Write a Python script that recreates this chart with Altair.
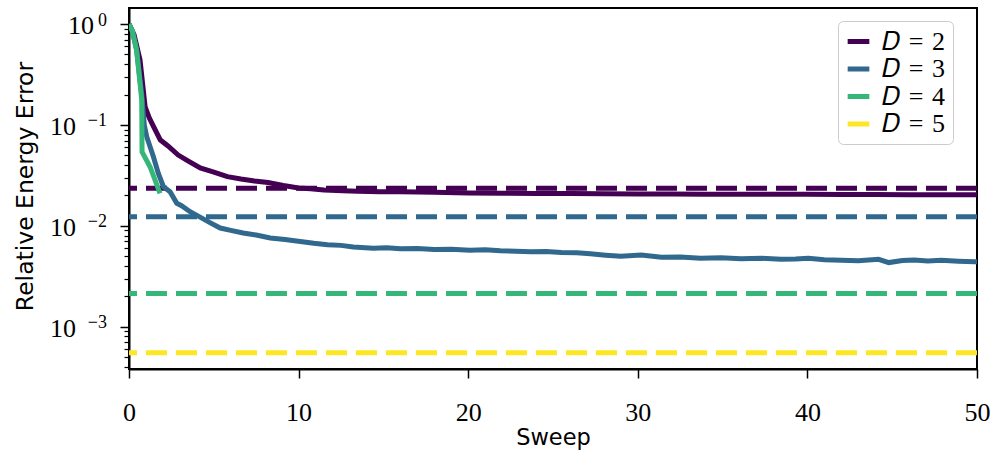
import altair as alt
import pandas as pd

# Relative energy error per sweep for each bond dimension D
sweep_d2 = [0, 0.3, 0.65, 0.95, 1.2, 1.45, 1.85, 2.3, 2.9, 3.5, 4.2, 5.0, 5.8, 6.6,
            7.4, 8.2, 9.1, 10.0, 10.7, 11.5, 12.6, 13.5, 14.8, 16, 18, 20, 22, 24,
            26, 28, 30, 32, 34, 36, 38, 40, 42, 44, 46, 48, 50]
err_d2 = [1.0, 0.78, 0.44, 0.151, 0.117, 0.096, 0.0708, 0.0618, 0.0503, 0.0438,
          0.0374, 0.0341, 0.0307, 0.0291, 0.0278, 0.0269, 0.0251, 0.0237, 0.0233,
          0.0226, 0.0222, 0.0220, 0.0218, 0.0217, 0.0215, 0.0211, 0.0210, 0.0209,
          0.0209, 0.0208, 0.0207, 0.0207, 0.0206, 0.0206, 0.0205, 0.0205, 0.0204,
          0.0204, 0.0203, 0.0203, 0.0203]

sweep_d3 = [0, 0.2, 0.45, 0.75, 0.9, 1.05, 1.44, 1.73, 2.03, 2.42, 2.82, 3.1, 3.6,
            4.19, 4.8, 5.38, 6.0, 6.73, 7.5, 8.33, 9.2, 10.1, 10.9, 11.7, 12.5,
            13.23, 14.4, 15.2, 16.0, 17.0, 18.0, 19.0, 20.1, 21.0, 21.9, 22.8,
            23.7, 24.6, 25.5, 26.4, 27.2, 28.1, 29.0, 30.2, 31.4, 32.5, 33.7,
            34.9, 36.1, 37.3, 38.45, 39.3, 40.05, 41.0, 42.0, 43.0, 44.2, 44.8,
            45.6, 46.3, 47.1, 47.9, 48.9, 49.85, 50]
err_d3 = [1.0, 0.85, 0.55, 0.2, 0.1, 0.076, 0.0484, 0.0331, 0.0244, 0.0218,
          0.0167, 0.0158, 0.0138, 0.0122, 0.0107, 0.0095, 0.0090, 0.0085,
          0.0081, 0.00757, 0.00730, 0.0070, 0.00672, 0.00650, 0.00640, 0.00616,
          0.0060, 0.00605, 0.00592, 0.00596, 0.00584, 0.00586, 0.00572,
          0.00578, 0.00566, 0.00560, 0.00552, 0.00556, 0.00545, 0.00540,
          0.00528, 0.00512, 0.00500, 0.00513, 0.00488, 0.00492, 0.00478,
          0.00482, 0.00472, 0.00476, 0.00466, 0.00470, 0.00477, 0.00462,
          0.00455, 0.00451, 0.00466, 0.00432, 0.00452, 0.00458, 0.00449,
          0.00455, 0.00446, 0.00441, 0.00441]

sweep_d4 = [0, 0.2, 0.45, 0.75, 0.77, 1.24, 1.83]
err_d4 = [1.0, 0.85, 0.552, 0.177, 0.054, 0.0385, 0.021]

bond_labels = ["𝐷\u2004=\u20042", "𝐷\u2004=\u20043", "𝐷\u2004=\u20044", "𝐷\u2004=\u20045"]
reference_err = [0.02353, 0.0123, 0.00214, 0.000552]
palette = ["#440154", "#31688e", "#35b779", "#fde725"]

decade_exp = [0, -1, -2, -3]
decade_sup = ["0", "−1", "−2", "−3"]
minor_ticks = [m * 10.0 ** e for e in (-4, -3, -2, -1, 0) for m in range(2, 10)]
minor_ticks = [v for v in minor_ticks if 3.81e-4 <= v <= 1.441]

curves = pd.concat([
    pd.DataFrame({"sweep": sweep_d2, "err": err_d2, "label": bond_labels[0]}),
    pd.DataFrame({"sweep": sweep_d3, "err": err_d3, "label": bond_labels[1]}),
    pd.DataFrame({"sweep": sweep_d4, "err": err_d4, "label": bond_labels[2]}),
])
refs = pd.DataFrame({"label": bond_labels, "err": reference_err})
decades = pd.DataFrame({"e": decade_exp, "sup": decade_sup,
                        "val": [10.0 ** e for e in decade_exp]})

serif = "Liberation Serif"
sans = "DejaVu Sans"

xscale = alt.Scale(domain=[0, 50], nice=False, zero=False)
yscale = alt.Scale(type="log", domain=[3.81e-4, 1.441], nice=False)

x_axis = alt.Axis(values=[0, 10, 20, 30, 40, 50], format="d", grid=False,
                  tickSize=9, tickWidth=1.5, tickColor="black",
                  domainColor="black", domainWidth=2,
                  labelFont=serif, labelFontSize=26, labelColor="black",
                  labelPadding=21, labelFlush=False, labelOverlap=False,
                  title="Sweep", titleFont=sans, titleFontSize=22.5,
                  titleFontWeight="normal", titleColor="black",
                  titleY=68, titleBaseline="middle")

y_major = alt.Axis(values=[1, 0.1, 0.01, 0.001], grid=False, labels=False,
                   tickSize=9, tickWidth=1.5, tickColor="black",
                   domainColor="black", domainWidth=2,
                   title="Relative Energy Error", titleFont=sans,
                   titleFontSize=23.5, titleFontWeight="normal",
                   titleColor="black", titleX=-104, titleY=178,
                   titleAngle=270, titleAlign="center",
                   titleBaseline="middle")

y_minor = alt.Axis(values=minor_ticks, grid=False, labels=False, domain=False,
                   tickSize=5, tickWidth=1.2, tickColor="black", title=None,
                   orient="left")

color = alt.Color(
    "label:N",
    scale=alt.Scale(domain=bond_labels, range=palette),
    legend=alt.Legend(title=None, orient="none", legendX=709, legendY=13,
                      symbolType="stroke", symbolStrokeWidth=5,
                      symbolSize=470, symbolDash=[1, 0],
                      labelFont=serif, labelFontSize=26, labelColor="black",
                      labelOffset=10, padding=7, rowPadding=0.5,
                      cornerRadius=5, strokeColor="#cccccc",
                      fillColor="white"),
)

layers = []
for i, lab in enumerate(bond_labels):
    if lab in set(curves["label"]):
        layers.append(
            alt.Chart(curves).transform_filter(alt.datum.label == lab)
            .mark_line(strokeWidth=5, clip=True)
            .encode(x=alt.X("sweep:Q", scale=xscale, axis=x_axis),
                    y=alt.Y("err:Q", scale=yscale, axis=y_major),
                    color=color, order="sweep:Q")
        )
    layers.append(
        alt.Chart(refs).transform_filter(alt.datum.label == lab)
        .mark_rule(strokeWidth=5, strokeDash=[21, 9])
        .encode(y=alt.Y("err:Q", scale=yscale, axis=y_major), color=color)
    )

# y tick labels drawn as base "10" plus a raised exponent
ten_zero = (alt.Chart(decades).transform_filter("datum.e == 0")
            .mark_text(text="10", align="right", baseline="alphabetic", dy=10,
                       font=serif, fontSize=26, color="black")
            .encode(x=alt.value(-35), y=alt.Y("val:Q", scale=yscale, axis=y_major)))
ten_neg = (alt.Chart(decades).transform_filter("datum.e < 0")
           .mark_text(text="10", align="right", baseline="alphabetic", dy=10,
                      font=serif, fontSize=26, color="black")
           .encode(x=alt.value(-53), y=alt.Y("val:Q", scale=yscale, axis=y_major)))
layers += [ten_zero, ten_neg]

main = alt.layer(*layers)

exponents = (alt.Chart(decades)
             .mark_text(align="right", baseline="alphabetic", dy=1.5,
                        font=serif, fontSize=18, color="black")
             .encode(x=alt.value(-22),
                     y=alt.Y("val:Q", scale=yscale, axis=y_minor),
                     text="sup:N"))

chart = (
    alt.layer(main, exponents)
    .resolve_scale(y="shared")
    .resolve_axis(y="independent")
    .properties(width=848, height=361, autosize="none",
                padding={"left": 129, "top": 8, "right": 17, "bottom": 86},
                background="white")
    .configure_view(stroke="black", strokeWidth=2)
)

chart.save("out.html", embed_options={"renderer": "svg", "actions": False})
